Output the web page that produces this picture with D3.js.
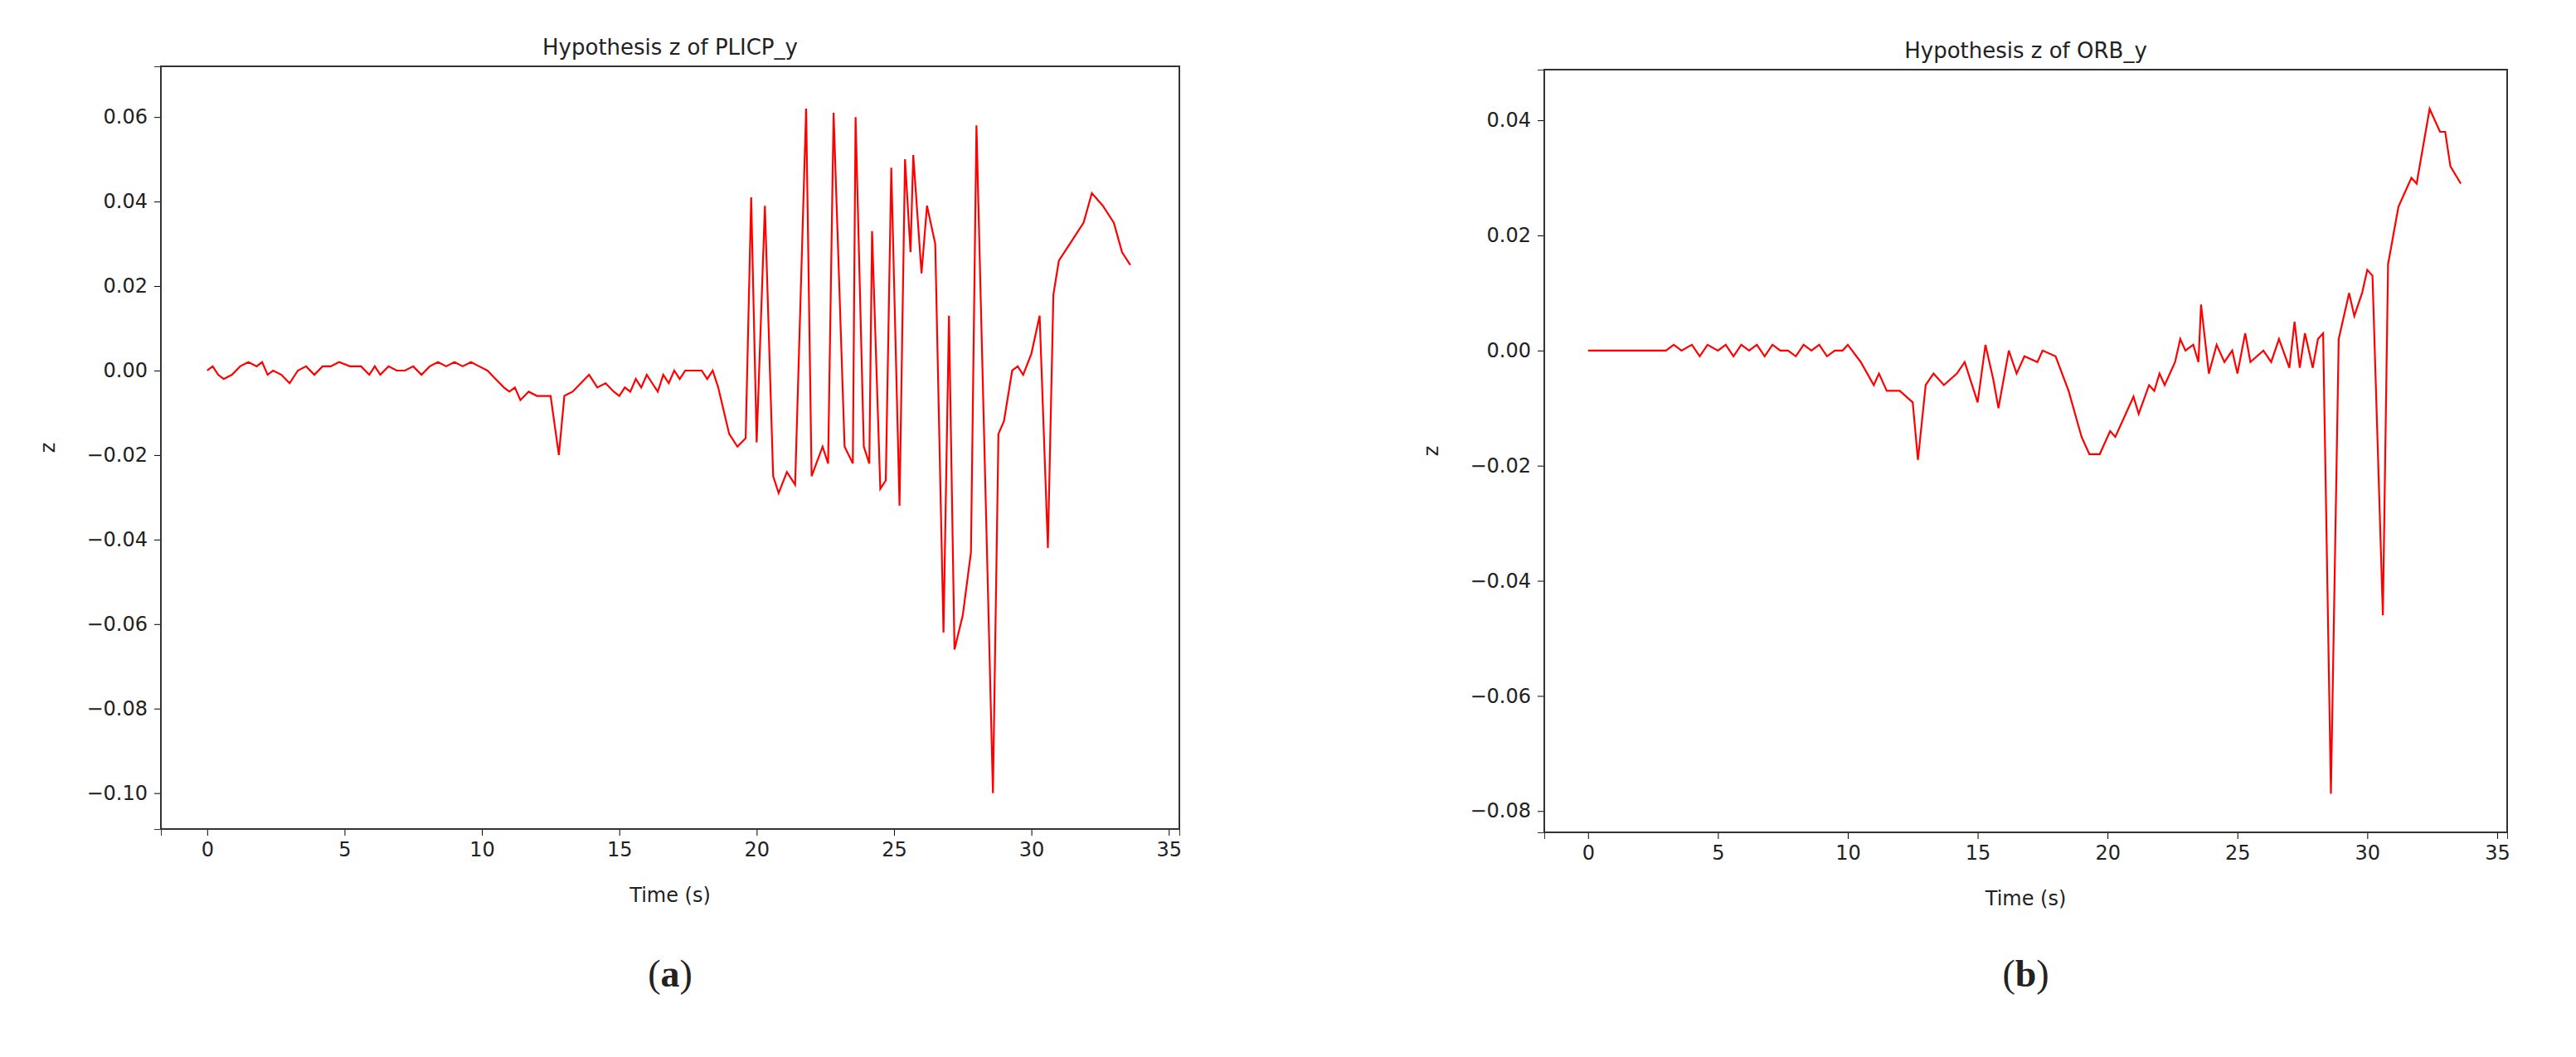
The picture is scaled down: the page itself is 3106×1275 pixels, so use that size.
<!DOCTYPE html>
<html><head><meta charset="utf-8">
<script src="https://cdn.jsdelivr.net/npm/d3@7"></script>
<style>
body{margin:0;background:#fff;}
text{font-family:"DejaVu Sans",sans-serif;fill:#222;}
.domain{stroke:#333;}
</style></head><body>
<script>
// tiempo (s) y valores z, leidos a ojo del grafico
const plicpT = [0,0.2,0.4,0.6,0.9,1.2,1.5,1.8,2.0,2.2,2.4,2.7,3.0,3.3,3.6,3.9,4.2,4.5,4.8,5.2,5.6,5.9,6.1,6.3,6.6,6.9,7.2,7.5,7.8,8.1,8.4,8.7,9.0,9.3,9.6,9.9,10.2,10.5,10.8,11.0,11.2,11.4,11.7,12.0,12.3,12.5,12.8,13.0,13.3,13.6,13.9,14.2,14.5,14.8,15.0,15.2,15.4,15.6,15.8,16.0,16.2,16.4,16.6,16.8,17.0,17.2,17.4,17.7,18.0,18.2,18.4,18.6,19.0,19.3,19.6,19.8,20.0,20.3,20.6,20.8,21.1,21.4,21.8,22.0,22.4,22.6,22.8,23.2,23.5,23.6,23.9,24.1,24.2,24.5,24.7,24.9,25.2,25.4,25.6,25.7,26.0,26.2,26.5,26.8,27.0,27.2,27.5,27.8,28.0,28.6,28.8,29.0,29.3,29.5,29.7,30.0,30.3,30.6,30.8,31.0,31.4,31.9,32.2,32.6,33.0,33.3,33.6];
const plicpZ = [0,0.001,-0.001,-0.002,-0.001,0.001,0.002,0.001,0.002,-0.001,0,-0.001,-0.003,0,0.001,-0.001,0.001,0.001,0.002,0.001,0.001,-0.001,0.001,-0.001,0.001,0,0,0.001,-0.001,0.001,0.002,0.001,0.002,0.001,0.002,0.001,0,-0.002,-0.004,-0.005,-0.004,-0.007,-0.005,-0.006,-0.006,-0.006,-0.020,-0.006,-0.005,-0.003,-0.001,-0.004,-0.003,-0.005,-0.006,-0.004,-0.005,-0.002,-0.004,-0.001,-0.003,-0.005,-0.001,-0.003,0,-0.002,0,0,0,-0.002,0,-0.004,-0.015,-0.018,-0.016,0.041,-0.017,0.039,-0.025,-0.029,-0.024,-0.027,0.062,-0.025,-0.018,-0.022,0.061,-0.018,-0.022,0.060,-0.018,-0.022,0.033,-0.028,-0.026,0.048,-0.032,0.050,0.028,0.051,0.023,0.039,0.030,-0.062,0.013,-0.066,-0.058,-0.043,0.058,-0.100,-0.015,-0.012,0,0.001,-0.001,0.004,0.013,-0.042,0.018,0.026,0.030,0.035,0.042,0.039,0.035,0.028,0.025];

const orbT = [0,1,2,3,3.3,3.6,4.0,4.3,4.6,5.0,5.3,5.6,5.9,6.2,6.5,6.8,7.1,7.4,7.7,8.0,8.3,8.6,8.9,9.2,9.5,9.8,10.0,10.5,11.0,11.2,11.5,12.0,12.5,12.7,13.0,13.3,13.7,14.2,14.5,15.0,15.3,15.6,15.8,16.2,16.5,16.8,17.3,17.5,18.0,18.5,19.0,19.3,19.7,20.1,20.3,20.7,21.0,21.2,21.6,21.8,22.0,22.2,22.6,22.8,23.0,23.3,23.5,23.6,23.9,24.2,24.5,24.8,25.0,25.3,25.5,26.0,26.3,26.6,27.0,27.2,27.4,27.6,27.9,28.1,28.3,28.6,28.9,29.3,29.5,29.8,30.0,30.2,30.6,30.8,31.2,31.7,31.9,32.4,32.8,33.0,33.2,33.6];
const orbZ = [0,0,0,0,0.001,0,0.001,-0.001,0.001,0,0.001,-0.001,0.001,0,0.001,-0.001,0.001,0,0,-0.001,0.001,0,0.001,-0.001,0,0,0.001,-0.002,-0.006,-0.004,-0.007,-0.007,-0.009,-0.019,-0.006,-0.004,-0.006,-0.004,-0.002,-0.009,0.001,-0.005,-0.010,0,-0.004,-0.001,-0.002,0,-0.001,-0.007,-0.015,-0.018,-0.018,-0.014,-0.015,-0.011,-0.008,-0.011,-0.006,-0.007,-0.004,-0.006,-0.002,0.002,0,0.001,-0.002,0.008,-0.004,0.001,-0.002,0,-0.004,0.003,-0.002,0,-0.002,0.002,-0.003,0.005,-0.003,0.003,-0.003,0.002,0.003,-0.077,0.002,0.010,0.006,0.010,0.014,0.013,-0.046,0.015,0.025,0.030,0.029,0.042,0.038,0.038,0.032,0.029];

const xTicks = [0,5,10,15,20,25,30,35];
const plicpYTicks = [0.06,0.04,0.02,0,-0.02,-0.04,-0.06,-0.08,-0.10];
const orbYTicks = [0.04,0.02,0,-0.02,-0.04,-0.06,-0.08];

const svg = d3.select("body").append("svg").attr("width",3106).attr("height",1275);

function panel(box, t, z, yDom, yTicks, title, tag){
  const x = d3.scaleLinear().domain([-1.685,35.385]).range([box.x0, box.x1]);
  const y = d3.scaleLinear().domain(yDom).range([box.y1, box.y0]);
  const g = svg.append("g");
  const fmt = d => d3.format(".2f")(d).replace("-","\u2212");
  g.append("g").attr("transform",`translate(0,${box.y1})`)
    .call(d3.axisBottom(x).tickValues(xTicks).tickSize(8).tickPadding(8))
    .call(a => a.selectAll("text").style("font-size","24px"));
  g.append("g").attr("transform",`translate(${box.x0},0)`)
    .call(d3.axisLeft(y).tickValues(yTicks).tickFormat(fmt).tickSize(8).tickPadding(8))
    .call(a => a.selectAll("text").style("font-size","24px"));
  g.append("rect").attr("x",box.x0).attr("y",box.y0).attr("width",box.x1-box.x0).attr("height",box.y1-box.y0)
    .attr("fill","none").attr("stroke","#333").attr("stroke-width",2);
  g.append("path").datum(d3.zip(t,z))
    .attr("fill","none").attr("stroke","#ff0000").attr("stroke-width",2.2)
    .attr("d", d3.line().x(d=>x(d[0])).y(d=>y(d[1])));
  const cx = (box.x0+box.x1)/2;
  g.append("text").attr("x",cx).attr("y",box.y0-14).attr("text-anchor","middle").style("font-size","26px").text(title);
  g.append("text").attr("x",cx).attr("y",box.y1+88).attr("text-anchor","middle").style("font-size","24px").text("Time (s)");
  g.append("text").attr("transform",`translate(${box.x0-128},${(box.y0+box.y1)/2}) rotate(-90)`)
    .attr("text-anchor","middle").style("font-size","24px").text("z");
  const lab = g.append("text").attr("x",cx).attr("y",1190).attr("text-anchor","middle")
    .style("font-family","'Liberation Serif',serif").style("font-size","46px");
  lab.append("tspan").text("(");
  lab.append("tspan").style("font-weight","bold").text(tag);
  lab.append("tspan").text(")");
}

panel({x0:194,x1:1422,y0:80,y1:1000}, plicpT, plicpZ, [-0.1085,0.072], plicpYTicks, "Hypothesis z of PLICP_y", "a");
panel({x0:1862,x1:3023,y0:84,y1:1004}, orbT, orbZ, [-0.0837,0.0488], orbYTicks, "Hypothesis z of ORB_y", "b");
</script>
</body></html>
